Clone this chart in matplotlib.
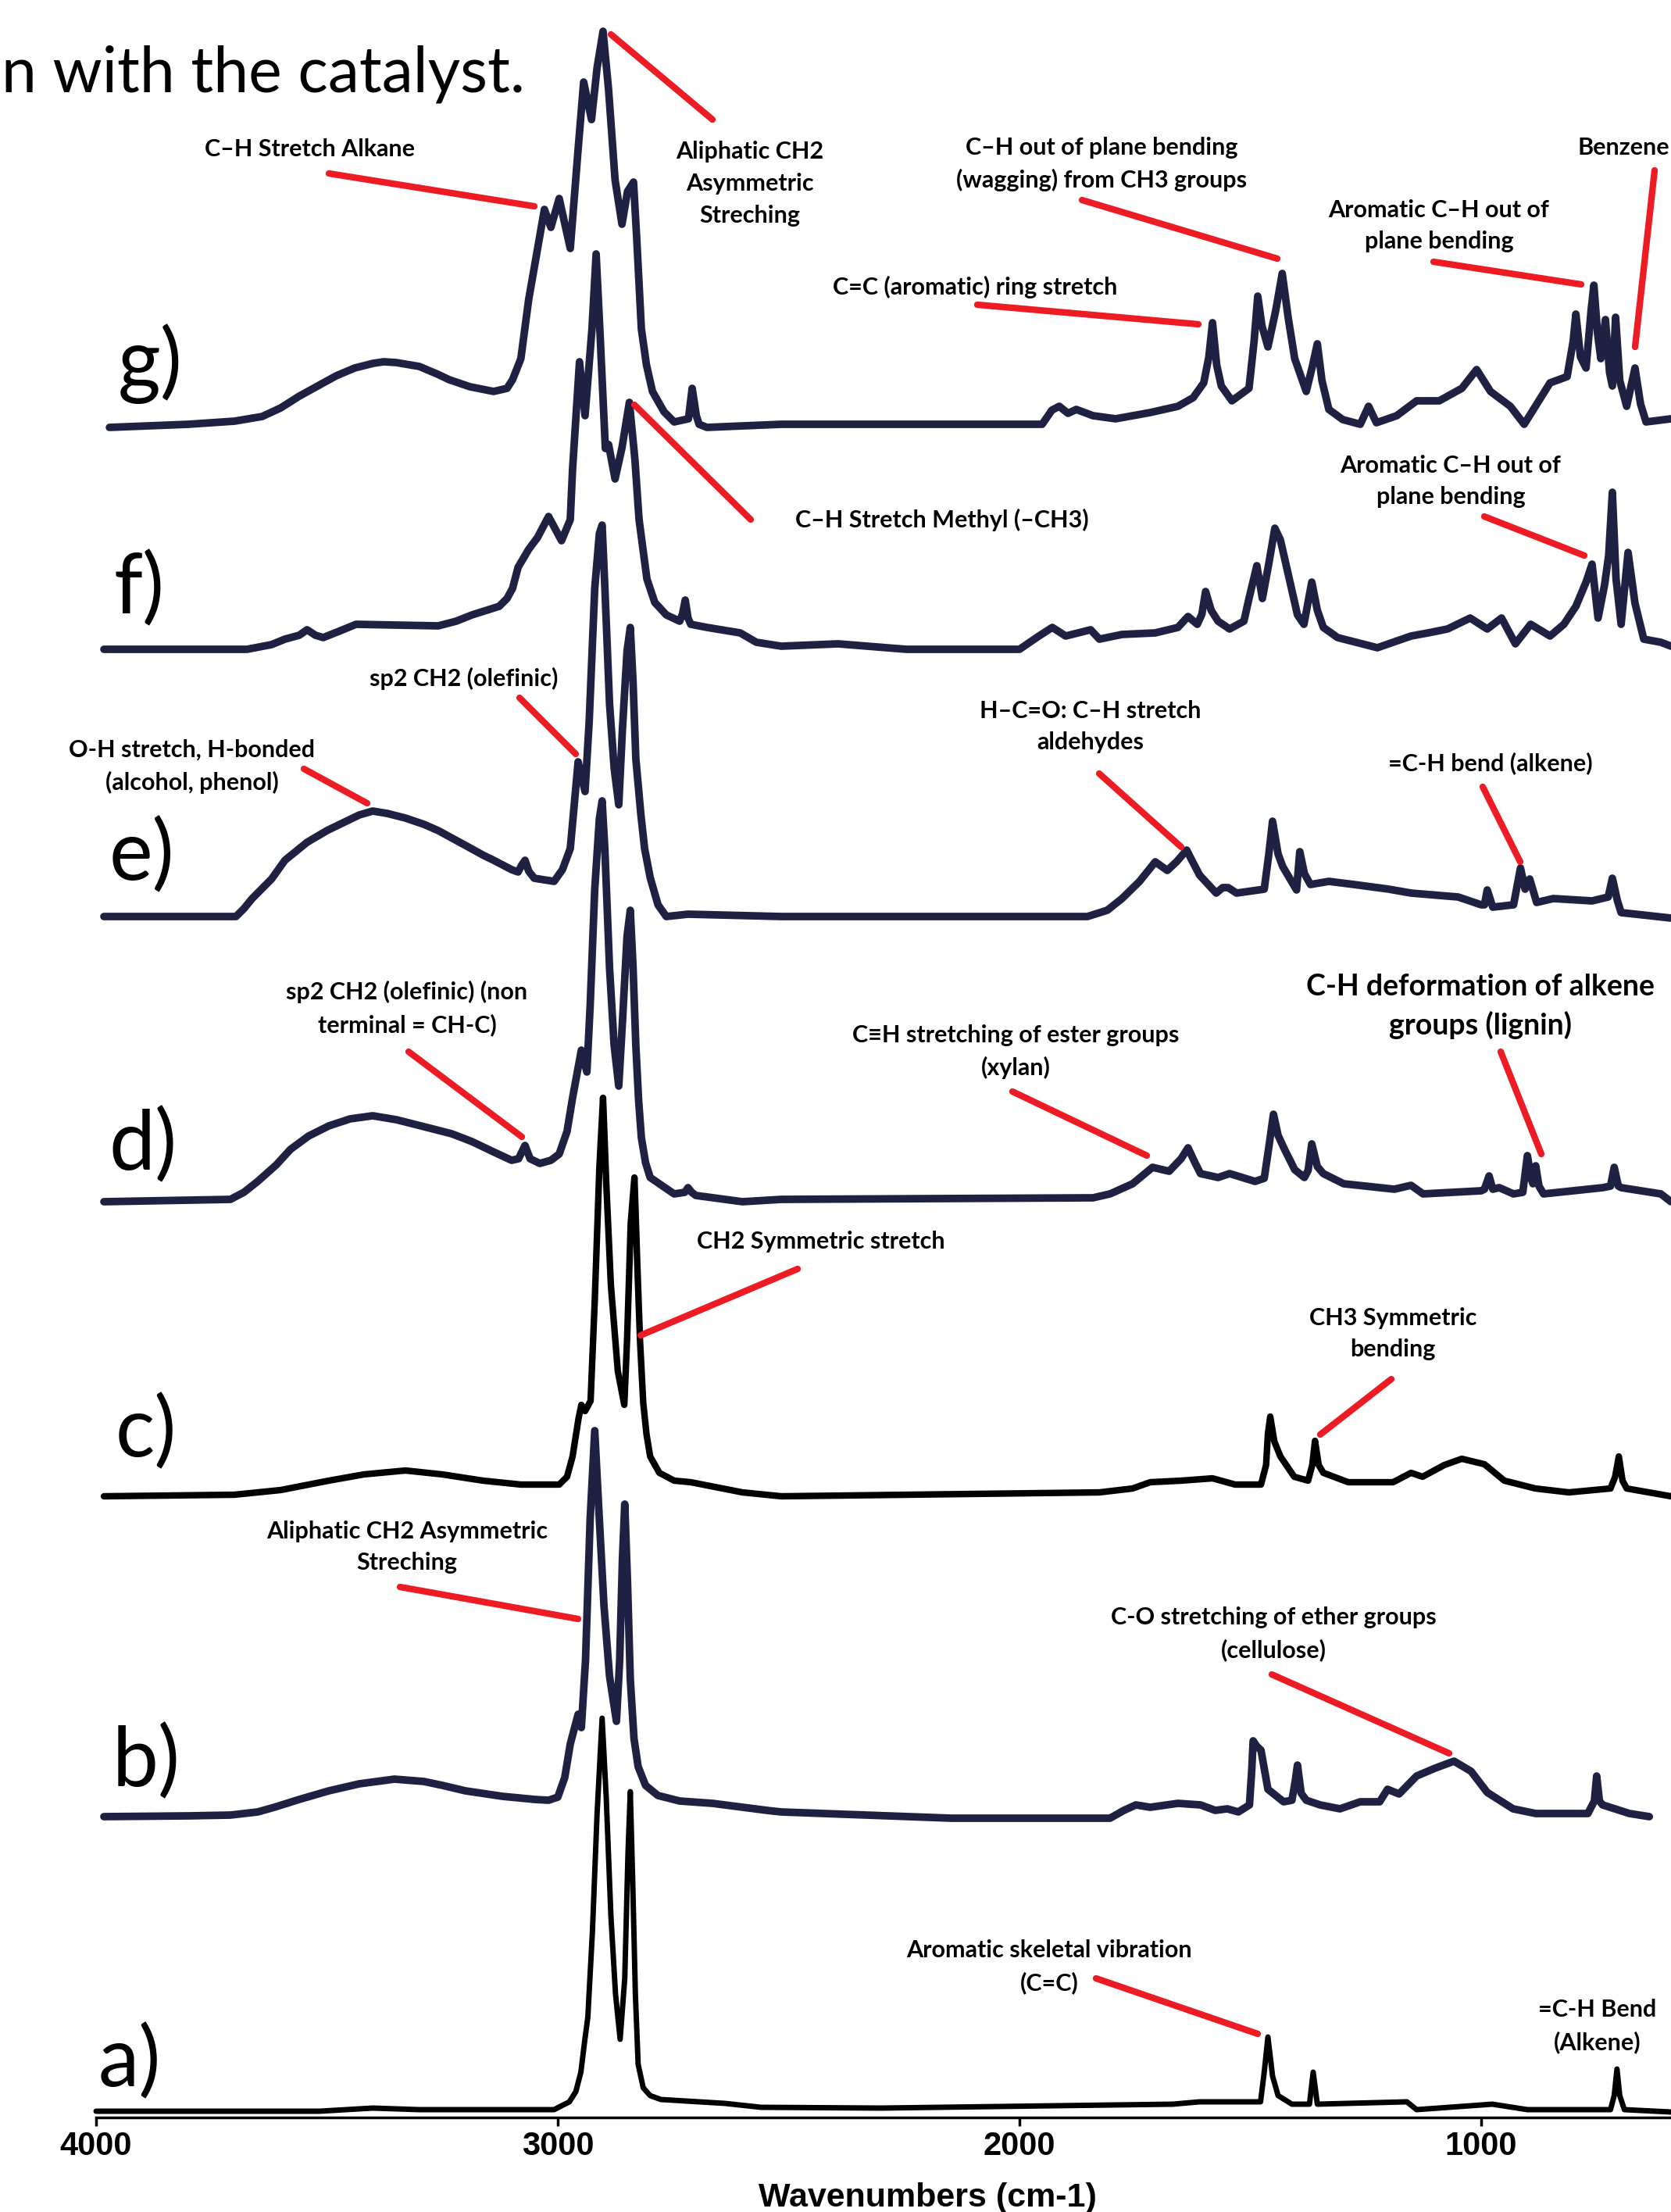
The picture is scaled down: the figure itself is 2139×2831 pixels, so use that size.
import matplotlib
matplotlib.use("Agg")
import matplotlib.pyplot as plt
from matplotlib.lines import Line2D
from matplotlib.transforms import Affine2D

W, H = 2139, 2831

# --- spectra: wavenumber (cm-1) and relative absorbance (a.u.) ---
g_wn = [3971, 3800, 3700, 3640, 3600, 3560, 3520, 3480, 3440, 3400, 3377, 3350, 3300, 3260,
        3235, 3190, 3139, 3110, 3098, 3080, 3063, 3047, 3029, 3015, 2997, 2973, 2956, 2944,
        2927, 2915, 2902, 2890, 2876, 2861, 2849, 2836, 2829, 2819, 2808, 2795, 2770, 2748,
        2717, 2709, 2700, 2694, 2677, 2516, 2271, 1951, 1930, 1914, 1895, 1877, 1841, 1792,
        1717, 1657, 1624, 1601, 1590, 1582, 1573, 1563, 1540, 1503, 1492, 1484, 1475, 1462,
        1445, 1431, 1418, 1404, 1379, 1365, 1355, 1345, 1330, 1300, 1262, 1244, 1227, 1183,
        1140, 1091, 1042, 1010, 980, 937, 907, 851, 814, 801, 795, 785, 773, 762, 756, 748,
        741, 731, 722, 716, 709, 700, 685, 667, 655, 643, 589]
g_ab = [0, 4, 8, 14, 25, 40, 53, 66, 76, 82, 84, 83, 78, 68,
        61, 52, 46, 50, 61, 88, 164, 218, 279, 256, 293, 229, 356, 442,
        394, 460, 507, 432, 317, 260, 302, 314, 241, 126, 80, 46, 20, 7,
        11, 50, 15, 4, 0, 4, 4, 4, 22, 27, 18, 23, 15, 11,
        19, 27, 38, 57, 90, 134, 80, 53, 34, 50, 110, 168, 130, 103,
        150, 197, 140, 88, 46, 80, 107, 60, 23, 10, 4, 27, 6, 15,
        34, 34, 50, 74, 46, 27, 4, 57, 65, 110, 145, 90, 76, 150, 182, 120,
        88, 138, 70, 53, 141, 60, 27, 76, 30, 7, 11]

f_wn = [3983, 3800, 3673, 3620, 3591, 3560, 3543, 3525, 3508, 3470, 3437, 3350, 3259, 3220,
        3186, 3127, 3110, 3098, 3086, 3063, 3044, 3020, 2992, 2973, 2968, 2953, 2941, 2926,
        2917, 2909, 2897, 2890, 2876, 2861, 2845, 2833, 2824, 2807, 2790, 2765, 2736, 2730,
        2724, 2718, 2712, 2677, 2605, 2570, 2516, 2393, 2245, 2000, 1958, 1929, 1900, 1846,
        1827, 1778, 1706, 1657, 1635, 1615, 1605, 1597, 1585, 1570, 1545, 1514, 1503, 1486,
        1474, 1460, 1447, 1435, 1423, 1398, 1384, 1367, 1355, 1342, 1311, 1225, 1152, 1115,
        1073, 1024, 987, 956, 926, 893, 851, 821, 795, 773, 760, 747, 733, 724, 716, 708,
        697, 682, 667, 648, 611, 589]
f_ab = [0, 0, 0, 6, 13, 18, 25, 18, 15, 24, 32, 31, 30, 36,
        44, 55, 65, 78, 105, 128, 143, 170, 139, 166, 231, 368, 299, 410,
        506, 410, 257, 262, 218, 258, 316, 243, 166, 90, 60, 44, 36, 45,
        63, 40, 32, 28, 21, 9, 4, 7, 0, 0, 17, 28, 17, 25,
        13, 19, 21, 28, 42, 32, 45, 74, 50, 36, 26, 36, 65, 107,
        65, 110, 155, 140, 109, 44, 32, 86, 50, 28, 15, 2, 17, 21,
        26, 40, 26, 40, 7, 32, 17, 32, 55, 86, 109, 40, 82, 120, 201, 90,
        32, 124, 59, 13, 9, 4]

e_wn = [3983, 3697, 3680, 3662, 3620, 3591, 3543, 3500, 3472, 3430, 3401, 3370, 3330, 3290,
        3259, 3200, 3160, 3139, 3100, 3086, 3078, 3071, 3063, 3051, 3008, 2990, 2973, 2956,
        2941, 2932, 2920, 2910, 2904, 2898, 2888, 2878, 2868, 2860, 2850, 2843, 2837, 2831,
        2820, 2812, 2800, 2783, 2765, 2718, 2516, 1853, 1810, 1778, 1740, 1706, 1680, 1660,
        1638, 1625, 1610, 1574, 1560, 1548, 1530, 1470, 1460, 1452, 1440, 1430, 1400, 1393,
        1383, 1370, 1330, 1276, 1200, 1152, 1050, 1000, 993, 987, 975, 930, 915, 905, 895,
        880, 844, 760, 725, 716, 705, 697, 650, 589]
e_ab = [0, 0, 10, 23, 48, 72, 95, 110, 118, 130, 135, 132, 126, 118,
        110, 91, 78, 72, 60, 57, 66, 72, 58, 49, 45, 60, 87, 198,
        160, 250, 420, 490, 501, 420, 273, 190, 143, 240, 340, 370, 300, 202,
        130, 87, 50, 15, 0, 3, 0, 0, 8, 23, 45, 70, 59, 70,
        85, 70, 53, 30, 37, 37, 30, 35, 80, 122, 80, 64, 34, 83,
        55, 41, 45, 41, 35, 30, 25, 15, 15, 34, 12, 15, 62, 35, 48,
        18, 23, 20, 25, 49, 20, 5, 2, -2]

d_wn = [3983, 3709, 3680, 3650, 3610, 3579, 3540, 3496, 3450, 3401, 3350, 3283, 3230, 3186,
        3140, 3100, 3085, 3071, 3060, 3039, 3015, 2997, 2980, 2968, 2949, 2937, 2930, 2920,
        2910, 2904, 2898, 2888, 2878, 2868, 2860, 2850, 2843, 2837, 2831, 2825, 2819, 2810,
        2800, 2748, 2725, 2718, 2710, 2701, 2600, 2516, 1841, 1804, 1755, 1712, 1676, 1650,
        1635, 1620, 1608, 1570, 1545, 1490, 1470, 1460, 1450, 1440, 1426, 1404, 1383, 1375,
        1367, 1355, 1342, 1298, 1188, 1152, 1126, 1000, 993, 983, 975, 961, 930, 910, 900,
        892, 888, 882, 875, 865, 737, 720, 712, 703, 697, 611, 589]
d_ab = [0, 3, 12, 26, 47, 67, 84, 97, 106, 110, 105, 95, 87, 77,
        64, 53, 55, 72, 55, 49, 53, 61, 90, 133, 194, 166, 250, 400,
        490, 513, 450, 300, 200, 148, 230, 340, 373, 300, 200, 130, 82, 50,
        31, 10, 12, 18, 12, 8, 0, 3, 5, 10, 23, 44, 39, 55,
        69, 50, 36, 31, 36, 26, 30, 70, 112, 85, 67, 41, 31, 40,
        74, 45, 36, 23, 16, 21, 10, 14, 16, 33, 16, 18, 10, 12, 59,
        30, 23, 46, 20, 10, 18, 20, 44, 20, 18, 10, 0]

c_wn = [3983, 3700, 3600, 3496, 3420, 3330, 3250, 3162, 3080, 2997, 2980, 2968, 2955, 2949,
        2941, 2929, 2920, 2910, 2902, 2895, 2885, 2870, 2856, 2850, 2842, 2834, 2828, 2822,
        2815, 2808, 2800, 2780, 2748, 2712, 2600, 2516, 1827, 1755, 1717, 1650, 1582, 1533,
        1477, 1466, 1462, 1457, 1448, 1435, 1405, 1375, 1366, 1360, 1352, 1342, 1288, 1191,
        1152, 1127, 1080, 1042, 993, 950, 883, 810, 720, 710, 702, 694, 685, 589]
c_ab = [0, 2, 8, 20, 28, 33, 28, 20, 15, 15, 25, 51, 100, 117,
        109, 122, 250, 420, 510, 400, 270, 160, 117, 200, 350, 408, 300, 200,
        120, 80, 51, 30, 20, 18, 5, 0, 5, 10, 18, 20, 23, 15,
        15, 40, 80, 102, 70, 51, 25, 20, 40, 71, 40, 30, 18, 18,
        30, 25, 40, 48, 41, 20, 10, 5, 10, 25, 51, 20, 10, 0]

b_wn = [3983, 3800, 3709, 3650, 3614, 3560, 3496, 3430, 3354, 3290, 3250, 3200, 3120, 3050,
        3020, 3000, 2985, 2973, 2956, 2949, 2940, 2930, 2920, 2910, 2900, 2888, 2873, 2866,
        2860, 2855, 2849, 2843, 2835, 2826, 2810, 2783, 2736, 2665, 2547, 2516, 2147, 1804,
        1774, 1748, 1717, 1657, 1608, 1576, 1550, 1526, 1502, 1497, 1494, 1486, 1477, 1462,
        1428, 1410, 1403, 1398, 1390, 1379, 1349, 1306, 1262, 1220, 1203, 1178, 1140, 1100,
        1059, 1022, 987, 931, 882, 769, 755, 750, 744, 737, 679, 636]
b_ab = [0, 1, 2, 6, 12, 22, 33, 42, 48, 45, 40, 33, 26, 22,
        21, 25, 50, 93, 131, 114, 200, 380, 494, 380, 270, 180, 122, 200,
        330, 400, 300, 176, 100, 64, 40, 27, 20, 17, 8, 6, -2, -2,
        8, 15, 12, 17, 15, 8, 10, 6, 15, 60, 97, 90, 85, 35,
        19, 21, 45, 66, 30, 21, 15, 10, 19, 19, 35, 29, 52, 62,
        71, 58, 31, 10, 4, 4, 20, 52, 20, 15, 4, 0]

a_wn = [4000, 3516, 3401, 3300, 3008, 2975, 2961, 2950, 2942, 2935, 2925, 2915, 2904, 2895,
        2885, 2875, 2865, 2855, 2848, 2843, 2838, 2832, 2826, 2815, 2800, 2777, 2638, 2560,
        2300, 1668, 1610, 1478, 1470, 1462, 1452, 1440, 1410, 1372, 1364, 1355, 1161, 1140,
        976, 900, 720, 712, 706, 700, 690, 589]
a_ab = [0, 0, 4, 2, 2, 12, 25, 50, 89, 120, 230, 380, 503, 400,
        250, 150, 92, 170, 330, 409, 300, 150, 60, 30, 20, 15, 10, 5,
        4, 9, 12, 12, 50, 95, 45, 20, 9, 9, 50, 9, 12, 2,
        9, 2, 2, 20, 54, 20, 2, -1]

panel_labels = ["a)", "b)", "c)", "d)", "e)", "f)", "g)"]
wn_series = [a_wn, b_wn, c_wn, d_wn, e_wn, f_wn, g_wn]
ab_series = [a_ab, b_ab, c_ab, d_ab, e_ab, f_ab, g_ab]
offsets = [8, 385, 795, 1172, 1537, 1879, 2163]

NAVY = "#1f2142"
RED = "#ed1c24"
colors = ["black", NAVY, "black", NAVY, NAVY, NAVY, NAVY]
widths = [5, 7, 6, 7, 7, 7, 7]

fig = plt.figure(figsize=(W / 100, H / 100), dpi=100)
px = Affine2D().scale(1 / W, -1 / H).translate(0, 1) + fig.transFigure

ax = fig.add_axes([123 / W, (H - 2710) / H, (W - 123) / W, 2710 / H])
ax.set_xlim(4000, 589)
ax.set_ylim(0, 2710)

for wn, ab, off, col, lw in zip(wn_series, ab_series, offsets, colors, widths):
    ax.plot(wn, [v + off for v in ab], color=col, lw=lw, solid_joinstyle="round",
            solid_capstyle="round", clip_on=False)

for s in ["left", "right", "top"]:
    ax.spines[s].set_visible(False)
ax.spines["bottom"].set_linewidth(2.5)
ax.set_yticks([])
ax.set_xticks([4000, 3000, 2000, 1000])
ax.tick_params(axis="x", direction="out", length=8, width=2.5, pad=4)
for lab in ax.get_xticklabels():
    lab.set_fontfamily("Liberation Sans")
    lab.set_fontweight("bold")
    lab.set_fontsize(30)

fig.text(1187, 2813, "Wavenumbers (cm-1)", transform=px, ha="center", va="center",
         fontsize=31, fontweight="bold", family="Liberation Sans")

# title fragment (cropped in the original)
fig.text(672, 117, "n with the catalyst.", transform=px, ha="right", va="baseline",
         fontsize=58, family="Lato")

# panel letters
label_pos = [(126, 2670), (144, 2286), (148, 1864), (140, 1497), (140, 1126), (146, 785), (151, 497)]
for lab, (x, y) in zip(panel_labels, label_pos):
    fig.text(x, y, lab, transform=px, ha="left", va="baseline", fontsize=76, family="Lato")

# band assignments: text, text centre (px), leader line (px)
notes = [
    ("C–H Stretch Alkane", (396, 191), ((421, 222), (684, 264))),
    ("Aliphatic CH2\nAsymmetric\nStreching", (960, 235), ((782, 44), (912, 153))),
    ("C–H out of plane bending\n(wagging) from CH3 groups", (1410, 210), ((1385, 256), (1635, 331))),
    ("C=C (aromatic) ring stretch", (1248, 367), ((1251, 390), (1534, 415))),
    ("Aromatic C–H out of\nplane bending", (1842, 289), ((1835, 335), (2024, 364))),
    ("C–H Stretch Methyl (–CH3)", (1206, 665), ((812, 518), (961, 665))),
    ("Aromatic C–H out of\nplane bending", (1857, 616), ((1900, 661), (2028, 711))),
    ("sp2 CH2 (olefinic)", (594, 868), ((665, 893), (737, 965))),
    ("O-H stretch, H-bonded\n(alcohol, phenol)", (246, 981), ((389, 984), (470, 1028))),
    ("H–C=O: C–H stretch\naldehydes", (1396, 930), ((1407, 990), (1512, 1084))),
    ("=C-H bend (alkene)", (1908, 977), ((1898, 1007), (1946, 1103))),
    ("sp2 CH2 (olefinic) (non\nterminal = CH-C)", (521, 1291), ((523, 1346), (668, 1455))),
    ("C≡H stretching of ester groups\n(xylan)", (1300, 1346), ((1296, 1397), (1468, 1479))),
    ("CH2 Symmetric stretch", (1051, 1589), ((1021, 1624), (820, 1709))),
    ("CH3 Symmetric\nbending", (1783, 1707), ((1781, 1765), (1690, 1836))),
    ("Aliphatic CH2 Asymmetric\nStreching", (521, 1980), ((512, 2031), (740, 2072))),
    ("C-O stretching of ether groups\n(cellulose)", (1630, 2091), ((1628, 2143), (1855, 2244))),
    ("Aromatic skeletal vibration\n(C=C)", (1343, 2517), ((1403, 2532), (1610, 2603))),
]
for text, (tx, ty), ((x0, y0), (x1, y1)) in notes:
    fig.text(tx, ty, text, transform=px, ha="center", va="center", fontsize=22,
             fontweight="bold", family=["Lato", "DejaVu Sans"], linespacing=1.55)
    fig.add_artist(Line2D([x0, x1], [y0, y1], transform=px, color=RED, lw=6,
                          solid_capstyle="round"))

fig.text(1895, 1288, "C-H deformation of alkene\ngroups (lignin)", transform=px, ha="center",
         va="center", fontsize=27, fontweight="bold", family="Lato", linespacing=1.45)
fig.add_artist(Line2D([1921, 1973], [1346, 1477], transform=px, color=RED, lw=6,
                      solid_capstyle="round"))

fig.text(2020, 189, "Benzene", transform=px, ha="left", va="center", fontsize=22,
         fontweight="bold", family="Lato")
fig.add_artist(Line2D([2118, 2093], [218, 444], transform=px, color=RED, lw=6,
                      solid_capstyle="round"))

fig.text(2045, 2593, "=C-H Bend\n(Alkene)", transform=px, ha="center", va="center", fontsize=22,
         fontweight="bold", family="Lato", linespacing=1.55)

fig.savefig("out.png", dpi=100)
